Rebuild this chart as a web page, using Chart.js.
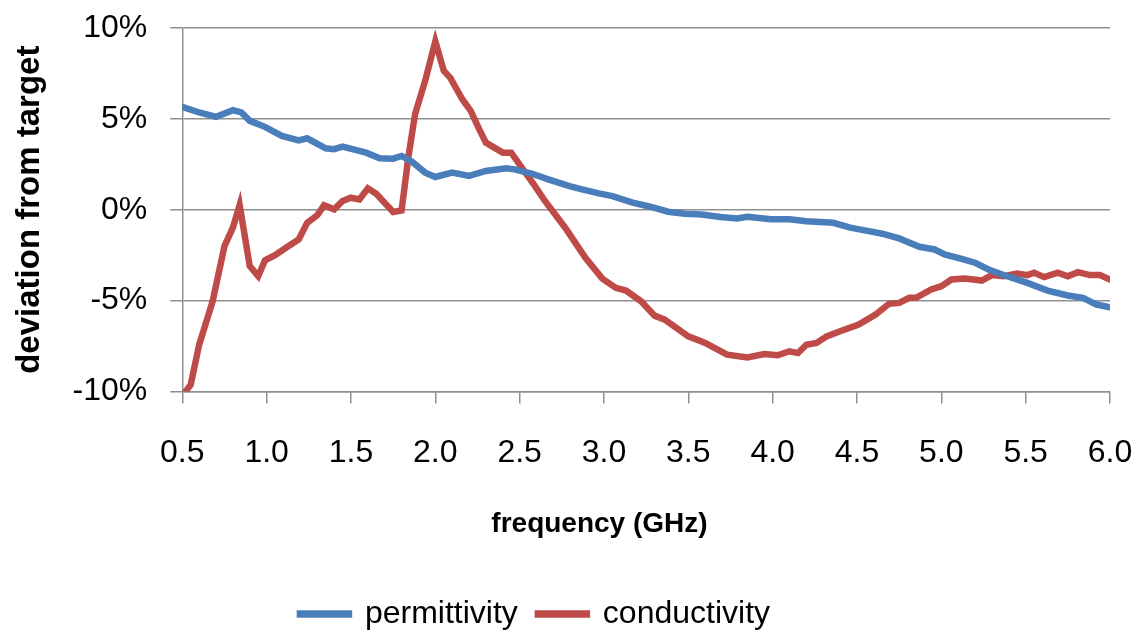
<!DOCTYPE html>
<html>
<head>
<meta charset="utf-8">
<script src="https://cdn.jsdelivr.net/npm/chart.js@4"></script>
<style>
  html, body { margin: 0; padding: 0; background: #fff; }
  #chartBox { width: 1140px; height: 632px; }
</style>
</head>
<body>
<div id="chartBox"><canvas id="deviationChart" width="1140" height="632"></canvas></div>
<script>
// frequency in GHz, deviation in %
const permFreq = [0.50, 0.60, 0.70, 0.80, 0.85, 0.90, 0.99, 1.09, 1.19, 1.24, 1.35, 1.40, 1.45, 1.59, 1.67, 1.75, 1.80, 1.86, 1.94, 2.00,
  2.10, 2.20, 2.30, 2.42, 2.47, 2.57, 2.67, 2.79, 2.87, 2.97, 3.05, 3.17, 3.28, 3.38, 3.48, 3.58, 3.69, 3.79, 3.85, 3.99,
  4.10, 4.20, 4.36, 4.46, 4.57, 4.65, 4.75, 4.87, 4.96, 5.02, 5.12, 5.20, 5.28, 5.39, 5.51, 5.63, 5.75, 5.84, 5.92, 6.00];
const permValues = [5.66, 5.35, 5.11, 5.48, 5.35, 4.89, 4.56, 4.06, 3.82, 3.93, 3.38, 3.33, 3.47, 3.14, 2.83, 2.81, 2.96, 2.65, 2.04, 1.80,
  2.04, 1.86, 2.13, 2.28, 2.22, 1.99, 1.67, 1.31, 1.12, 0.90, 0.75, 0.39, 0.15, -0.11, -0.22, -0.26, -0.40, -0.48, -0.39, -0.53,
  -0.53, -0.63, -0.72, -0.99, -1.18, -1.32, -1.58, -2.04, -2.19, -2.46, -2.70, -2.92, -3.29, -3.66, -4.03, -4.45, -4.72, -4.85, -5.22, -5.37];

const condFreq = [0.52, 0.55, 0.60, 0.68, 0.75, 0.80, 0.84, 0.90, 0.95, 0.99, 1.05, 1.13, 1.19, 1.24, 1.30, 1.34, 1.40, 1.45, 1.50, 1.55,
  1.60, 1.65, 1.75, 1.80, 1.84, 1.88, 1.94, 2.00, 2.05, 2.09, 2.16, 2.21, 2.26, 2.30, 2.40, 2.45, 2.52, 2.59, 2.65, 2.77,
  2.89, 2.99, 3.07, 3.13, 3.22, 3.30, 3.36, 3.50, 3.60, 3.73, 3.85, 3.95, 4.03, 4.10, 4.15, 4.20, 4.26, 4.32, 4.40, 4.51,
  4.61, 4.69, 4.75, 4.81, 4.85, 4.94, 5.00, 5.06, 5.14, 5.24, 5.30, 5.37, 5.45, 5.51, 5.55, 5.61, 5.69, 5.75, 5.81, 5.88,
  5.94, 6.00];
const condValues = [-10.0, -9.63, -7.43, -5.04, -2.00, -0.99, 0.26, -3.11, -3.66, -2.79, -2.50, -2.00, -1.64, -0.72, -0.31, 0.24, 0.02, 0.48, 0.66, 0.57,
  1.18, 0.88, -0.13, -0.04, 2.87, 5.26, 7.10, 9.26, 7.65, 7.24, 6.08, 5.44, 4.43, 3.69, 3.14, 3.14, 2.22, 1.31, 0.48, -0.99,
  -2.65, -3.79, -4.30, -4.45, -5.04, -5.83, -6.05, -6.97, -7.33, -7.98, -8.13, -7.94, -8.01, -7.79, -7.89, -7.43, -7.33, -6.97, -6.69, -6.32,
  -5.77, -5.18, -5.13, -4.85, -4.85, -4.39, -4.21, -3.84, -3.79, -3.90, -3.60, -3.66, -3.51, -3.60, -3.47, -3.71, -3.47, -3.66, -3.44, -3.60,
  -3.60, -3.84];

const seriesNames = ['permittivity', 'conductivity'];
const xTitle = 'frequency (GHz)';
const yTitle = 'deviation from target';

function toPoints(xs, ys) {
    let pts = [];
    for (let i = 0; i < xs.length; i++) {
        pts.push({ x: xs[i], y: ys[i] });
    }
    return pts;
}

const fontFam = '"Liberation Sans", Arial, sans-serif';
const gridGrey = '#8f8f8f';

// the legend in the original sits a bit left of centre
const legendShift = {
    id: 'legendShift',
    afterLayout: function(chart) {
        chart.legend.left -= 36;
        chart.legend.right -= 36;
    }
};

const ctx = document.getElementById('deviationChart');
const myChart = new Chart(ctx, {
    type: 'line',
    data: {
        datasets: [
            {
                label: seriesNames[0],
                data: toPoints(permFreq, permValues),
                borderColor: '#4a7ebb',
                backgroundColor: '#4a7ebb',
                borderWidth: 6.5,
                borderCapStyle: 'round',
                pointRadius: 0,
                tension: 0
            },
            {
                label: seriesNames[1],
                data: toPoints(condFreq, condValues),
                borderColor: '#be4b48',
                backgroundColor: '#be4b48',
                borderWidth: 6.5,
                borderCapStyle: 'round',
                pointRadius: 0,
                tension: 0
            }
        ]
    },
    plugins: [legendShift],
    options: {
        responsive: false,
        animation: false,
        layout: {
            padding: { top: 0, right: 8, left: 10, bottom: -8 }
        },
        plugins: {
            legend: {
                position: 'bottom',
                labels: {
                    boxWidth: 49,
                    boxHeight: 1,
                    padding: 20,
                    color: '#000',
                    font: { family: fontFam, size: 32 }
                }
            },
            tooltip: { enabled: false }
        },
        scales: {
            x: {
                type: 'linear',
                min: 0.5,
                max: 6.0,
                afterFit: function(scale) {
                    // keep the plot wide, as in the original
                    scale.paddingRight = 30;
                },
                ticks: {
                    stepSize: 0.5,
                    color: '#000',
                    padding: 34,
                    maxRotation: 0,
                    font: { family: fontFam, size: 32, lineHeight: 1 },
                    callback: function(v) { return v.toFixed(1); }
                },
                grid: {
                    drawOnChartArea: false,
                    drawTicks: true,
                    tickLength: 12,
                    color: gridGrey,
                    lineWidth: 1.5
                },
                border: { color: gridGrey, width: 1.5 },
                title: {
                    display: true,
                    text: xTitle + '            ',
                    color: '#000',
                    font: { family: fontFam, size: 28, weight: 'bold' },
                    padding: { top: 4, bottom: 37 }
                }
            },
            y: {
                min: -10,
                max: 10,
                afterFit: function(scale) {
                    scale.paddingTop = 28;
                },
                ticks: {
                    stepSize: 5,
                    color: '#000',
                    padding: 23,
                    font: { family: fontFam, size: 32 },
                    callback: function(v) { return v + '%'; }
                },
                grid: {
                    color: gridGrey,
                    lineWidth: 1.5,
                    tickLength: 12
                },
                border: { color: gridGrey, width: 1.5 },
                title: {
                    display: true,
                    text: yTitle,
                    color: '#000',
                    font: { family: fontFam, size: 33, weight: 'bold' },
                    padding: { top: 0, bottom: 0 }
                }
            }
        }
    }
});
</script>
</body>
</html>
